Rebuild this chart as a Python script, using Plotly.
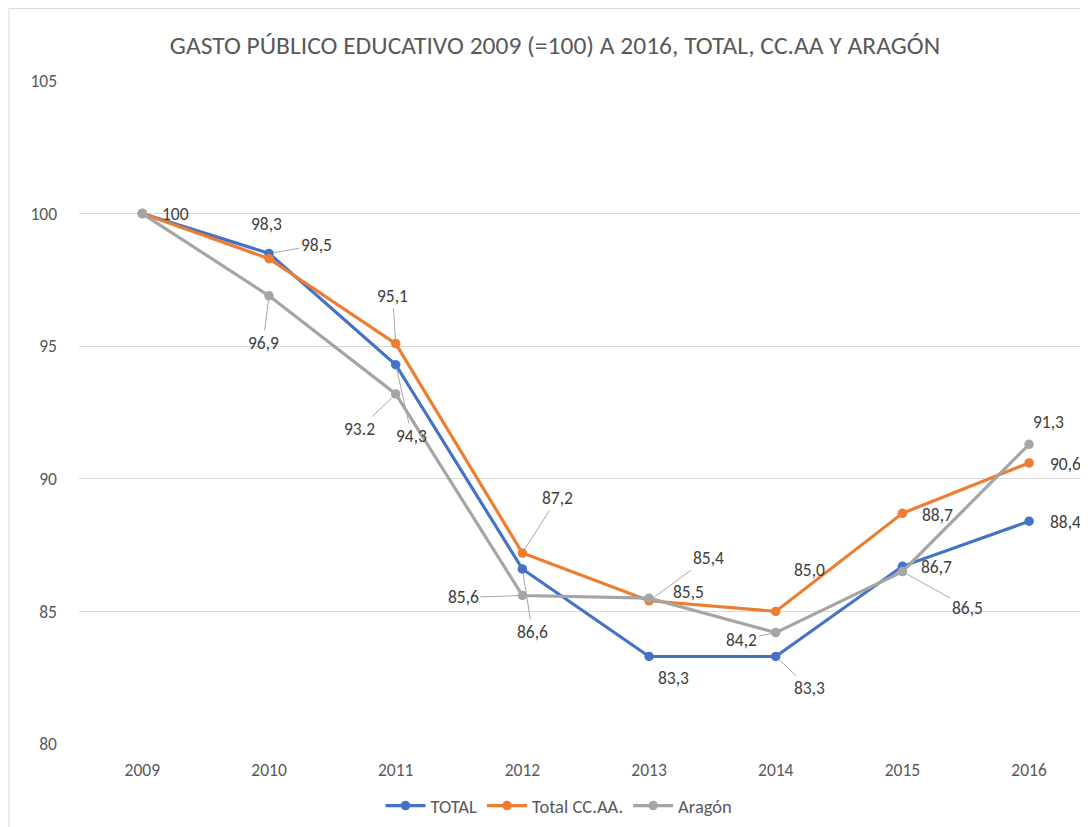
import plotly.graph_objects as go

years = [2009, 2010, 2011, 2012, 2013, 2014, 2015, 2016]
year_labels = ["2009", "2010", "2011", "2012", "2013", "2014", "2015", "2016"]

total = [100, 98.5, 94.3, 86.6, 83.3, 83.3, 86.7, 88.4]
ccaa = [100, 98.3, 95.1, 87.2, 85.4, 85.0, 88.7, 90.6]
aragon = [100, 96.9, 93.2, 85.6, 85.5, 84.2, 86.5, 91.3]

total_labels = ["", "98,5", "94,3", "86,6", "83,3", "83,3", "86,7", "88,4"]
ccaa_labels = ["100", "98,3", "95,1", "87,2", "85,4", "85,0", "88,7", "90,6"]
aragon_labels = ["", "96,9", "93.2", "85,6", "85,5", "84,2", "86,5", "91,3"]

y_ticks = [80, 85, 90, 95, 100, 105]

# label placement (pixel offsets, leader line flag)
total_pos = [None, (47, -8, True), (16, 71, True), (10, 63, True), (24, 22, False),
             (34, 32, True), (34, 1, False), (36, 1, False)]
ccaa_pos = [(33, 0, False), (-3, -35, False), (-3, -48, True), (35, -55, True),
            (59, -43, True), (34, -41, False), (35, 2, False), (36, 1, False)]
aragon_pos = [None, (-6, 47, True), (-36, 35, True), (-59, 2, True), (39, -6, False),
              (-34, 7, True), (65, 36, True), (19, -22, False)]

FONT = "Carlito, Calibri, 'Liberation Sans Narrow', 'Open Sans', sans-serif"
TXT = "#404040"
GREY = "#595959"

W, H = 1080, 819          # page adds an 8px body margin
L, T, B = 70.5, 73, 83
PW, PH = W - L, H - T - B

fig = go.Figure()
series = [
    ("TOTAL", total, "#4472C4", total_labels, total_pos),
    ("Total CC.AA.", ccaa, "#ED7D31", ccaa_labels, ccaa_pos),
    ("Aragón", aragon, "#A5A5A5", aragon_labels, aragon_pos),
]
for name, vals, col, _, _ in series:
    fig.add_trace(go.Scatter(
        x=years, y=vals, name=name, mode="lines+markers",
        line=dict(color=col, width=3.2), marker=dict(color=col, size=9.5),
        hoverinfo="skip"))

annotations = []
for name, vals, col, labels, pos in series:
    for i, (yr, v) in enumerate(zip(years, vals)):
        if not labels[i] or pos[i] is None:
            continue
        dx, dy, leader = pos[i]
        if leader:
            annotations.append(dict(
                x=yr, y=v, text=labels[i], showarrow=True, arrowhead=0,
                arrowwidth=1, arrowcolor="#A6A6A6", ax=dx, ay=dy,
                standoff=4, font=dict(family=FONT, size=17.5, color=TXT)))
        else:
            annotations.append(dict(
                x=yr, y=v, text=labels[i], showarrow=False,
                xshift=dx, yshift=-dy, font=dict(family=FONT, size=17.5, color=TXT)))

fig.update_layout(
    width=W, height=H,
    margin=dict(l=L, r=0, t=T, b=B, pad=0),
    paper_bgcolor="white", plot_bgcolor="white",
    font=dict(family=FONT, color=GREY, size=17.5),
    title=dict(text="GASTO PÚBLICO EDUCATIVO 2009 (=100) A 2016, TOTAL, CC.AA Y ARAGÓN",
               x=547 / W, xanchor="center", y=1 - 37 / H, yanchor="middle",
               font=dict(family=FONT, size=25.5, color=GREY)),
    showlegend=True,
    legend=dict(orientation="h", xref="container", yref="container",
                x=551 / W, xanchor="center", y=1 - 798 / H, yanchor="middle",
                font=dict(family=FONT, size=18.5, color=GREY),
                itemwidth=40, tracegroupgap=0),
    xaxis=dict(range=[2008.5, 2016.465], tickmode="array", tickvals=years,
               ticktext=year_labels, showgrid=False, zeroline=False,
               showline=False, ticks="", ticklabelstandoff=13,
               tickfont=dict(family=FONT, size=17.5, color=GREY), fixedrange=True),
    yaxis=dict(range=[80, 105], tickmode="array", tickvals=y_ticks,
               showgrid=True, gridcolor="#D9D9D9", gridwidth=1.3, zeroline=False,
               showline=False, ticks="", ticklabelstandoff=21,
               tickfont=dict(family=FONT, size=17.5, color=GREY), fixedrange=True),
    annotations=annotations,
    shapes=[
        dict(type="line", xref="paper", yref="paper",
             x0=(0.5 - L) / PW, x1=(0.5 - L) / PW,
             y0=-B / PH, y1=(PH + T - 0.5) / PH, line=dict(color="#D9D9D9", width=1)),
        dict(type="line", xref="paper", yref="paper",
             x0=(0.5 - L) / PW, x1=1.0,
             y0=(PH + T - 0.5) / PH, y1=(PH + T - 0.5) / PH,
             line=dict(color="#D9D9D9", width=1)),
    ],
)

fig.write_html("out.html")
